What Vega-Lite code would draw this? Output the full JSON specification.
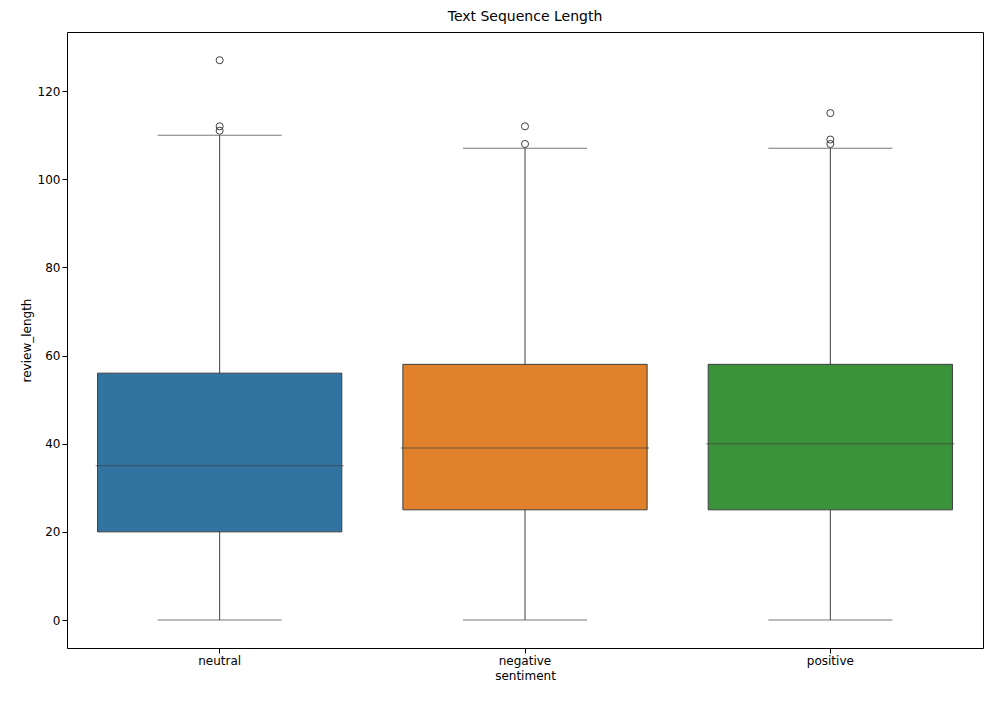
{
  "$schema": "https://vega.github.io/schema/vega-lite/v6.json",
  "autosize": {"type": "none"},
  "padding": {"left": 67, "top": 32, "right": 22, "bottom": 53},
  "width": 916,
  "height": 616,
  "config": {
    "font": "DejaVu Sans",
    "view": {"stroke": "black", "strokeWidth": 1},
    "axis": {"grid": false, "domain": false, "labelFontSize": 12, "titleFontSize": 12, "titleFontWeight": "normal", "labelColor": "black", "titleColor": "black", "tickColor": "black"}
  },
  "title": {"text": "Text Sequence Length", "fontSize": 14, "fontWeight": "normal", "offset": 8},
  "datasets": {
    "boxes": [
      {"sentiment": "neutral", "lo": 0, "q1": 20, "median": 35, "q3": 56, "hi": 110},
      {"sentiment": "negative", "lo": 0, "q1": 25, "median": 39, "q3": 58, "hi": 107},
      {"sentiment": "positive", "lo": 0, "q1": 25, "median": 40, "q3": 58, "hi": 107}
    ],
    "outliers": [
      {"sentiment": "neutral", "review_length": 111},
      {"sentiment": "neutral", "review_length": 112},
      {"sentiment": "neutral", "review_length": 127},
      {"sentiment": "negative", "review_length": 108},
      {"sentiment": "negative", "review_length": 112},
      {"sentiment": "positive", "review_length": 108},
      {"sentiment": "positive", "review_length": 109},
      {"sentiment": "positive", "review_length": 115}
    ]
  },
  "encoding": {
    "x": {"field": "sentiment", "type": "nominal", "sort": ["neutral", "negative", "positive"], "scale": {"paddingInner": 0, "paddingOuter": 0}, "axis": {"labelAngle": 0, "title": "sentiment"}},
    "y": {"type": "quantitative", "scale": {"domain": [-6.35, 133.4], "nice": false, "zero": false}, "axis": {"values": [0, 20, 40, 60, 80, 100, 120], "title": "review_length"}}
  },
  "layer": [
    {
      "data": {"name": "boxes"},
      "mark": {"type": "rule", "color": "#3f3f3f"},
      "encoding": {"y": {"field": "lo", "type": "quantitative"}, "y2": {"field": "hi"}}
    },
    {
      "data": {"name": "boxes"},
      "mark": {"type": "tick", "color": "#3f3f3f", "size": 124, "thickness": 1, "orient": "horizontal"},
      "encoding": {"y": {"field": "lo", "type": "quantitative"}}
    },
    {
      "data": {"name": "boxes"},
      "mark": {"type": "tick", "color": "#3f3f3f", "size": 124, "thickness": 1, "orient": "horizontal"},
      "encoding": {"y": {"field": "hi", "type": "quantitative"}}
    },
    {
      "data": {"name": "boxes"},
      "mark": {"type": "bar", "width": {"band": 0.8}, "stroke": "#3f3f3f", "strokeWidth": 1},
      "encoding": {
        "y": {"field": "q1", "type": "quantitative"},
        "y2": {"field": "q3"},
        "color": {"field": "sentiment", "type": "nominal", "legend": null, "scale": {"domain": ["neutral", "negative", "positive"], "range": ["#3274a1", "#e1812c", "#3a923a"]}}
      }
    },
    {
      "data": {"name": "boxes"},
      "mark": {"type": "tick", "color": "#3f3f3f", "size": 248, "thickness": 1, "orient": "horizontal"},
      "encoding": {"y": {"field": "median", "type": "quantitative"}}
    },
    {
      "data": {"name": "outliers"},
      "mark": {"type": "point", "shape": "circle", "filled": false, "stroke": "#3f3f3f", "strokeWidth": 1, "size": 50, "opacity": 1},
      "encoding": {"y": {"field": "review_length", "type": "quantitative"}}
    }
  ]
}
